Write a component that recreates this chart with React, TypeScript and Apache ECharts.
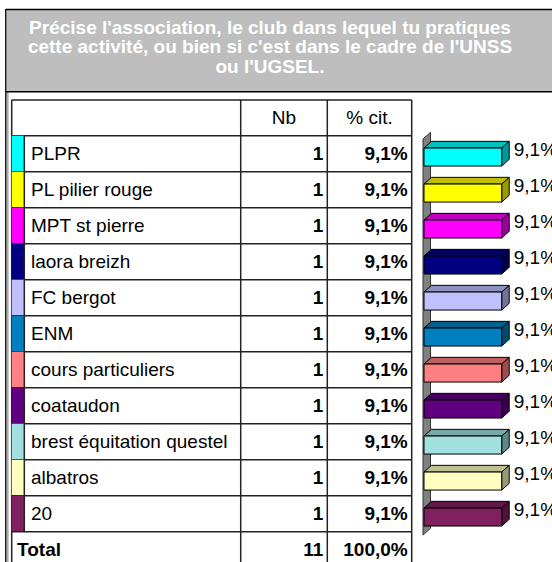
import React, { useEffect, useRef } from "react";
import * as echarts from "echarts";

// ---------- data ----------
const titleLines = [
  "Précise l'association, le club dans lequel tu pratiques",
  "cette activité, ou bien si c'est dans le cadre de l'UNSS",
  "ou l'UGSEL.",
];
const headerLabels = ["Nb", "% cit."];
const categories = [
  "PLPR",
  "PL pilier rouge",
  "MPT st pierre",
  "laora breizh",
  "FC bergot",
  "ENM",
  "cours particuliers",
  "coataudon",
  "brest équitation questel",
  "albatros",
  "20",
];
const counts = [1, 1, 1, 1, 1, 1, 1, 1, 1, 1, 1];
const percents = [9.1, 9.1, 9.1, 9.1, 9.1, 9.1, 9.1, 9.1, 9.1, 9.1, 9.1];
const colors = [
  "#00FFFF",
  "#FFFF00",
  "#FF00FF",
  "#000080",
  "#C0C0FF",
  "#0080C0",
  "#FF8080",
  "#600080",
  "#A0E0E0",
  "#FFFFC0",
  "#802060",
];
const totalLabel = "Total";
const totalCount = 11;
const totalPercent = 100.0;

// ---------- layout ----------
const FONT = "'Liberation Sans', Arial, sans-serif";
const FS = 19;
const LINE = "#222";
const TABLE_L = 11.7;
const COL_SW = 24.3;
const COL_NB = 240.7;
const COL_PCT = 327.3;
const TABLE_R = 411.7;
const HEADER_TOP = 100;
const ROWS_TOP = 135.7;
const ROW_H = 36;
const ROWS_BOTTOM = ROWS_TOP + ROW_H * categories.length;
const BAR_LEFT = 424;
const X_MAX = 10;
const GRID_W = 85.4;
const DX = 7.5;
const DY = 6.7;
const BAR_H = 18;

const fmtPct = (v: number) => v.toFixed(1).replace(".", ",") + "%";

function shade(hex: string, f: number) {
  const n = parseInt(hex.slice(1), 16);
  const r = Math.round(((n >> 16) & 255) * f);
  const g = Math.round(((n >> 8) & 255) * f);
  const b = Math.round((n & 255) * f);
  return `rgb(${r},${g},${b})`;
}

function lineEl(x1: number, y1: number, x2: number, y2: number, color = LINE, w = 1.5) {
  return {
    type: "line",
    shape: { x1, y1, x2, y2 },
    style: { stroke: color, lineWidth: w },
    silent: true,
  };
}

function textEl(x: number, y: number, text: string, align: string, bold = false, color = "#000") {
  return {
    type: "text",
    x,
    y,
    style: {
      text,
      fill: color,
      font: `${bold ? "bold " : ""}${FS}px ${FONT}`,
      align,
      verticalAlign: "middle",
    },
    silent: true,
  };
}

export default function App() {
  const ref = useRef<HTMLDivElement>(null);

  useEffect(() => {
    if (!ref.current) return;
    const chart = echarts.init(ref.current, undefined, { renderer: "svg" });
    const n = categories.length;

    const graphic: any[] = [];
    // outer frame
    graphic.push({
      type: "rect",
      shape: { x: 7, y: 10, width: 600, height: 81.5 },
      style: { fill: "#BEBEBE" },
      silent: true,
    });
    graphic.push(lineEl(5.8, 9.5, 600, 9.5, "#000", 1.5));
    graphic.push(lineEl(5.8, 9, 5.8, 600, "#000", 1.4));
    graphic.push(lineEl(7.9, 92, 7.9, 600, "#777", 1));
    graphic.push(lineEl(5.8, 91.7, 600, 91.7, "#000", 1.5));
    // title
    graphic.push({
      type: "text",
      x: 270,
      y: 46.5,
      style: {
        text: titleLines.join("\n"),
        fill: "#FFFFFF",
        font: `bold ${FS}px ${FONT}`,
        lineHeight: 19.5,
        align: "center",
        verticalAlign: "middle",
      },
      silent: true,
    });
    // table frame
    graphic.push(lineEl(TABLE_L, HEADER_TOP, TABLE_L, 600));
    graphic.push(lineEl(TABLE_R, HEADER_TOP, TABLE_R, 600));
    graphic.push(lineEl(TABLE_L, HEADER_TOP, TABLE_R, HEADER_TOP));
    graphic.push(lineEl(TABLE_L, ROWS_TOP, TABLE_R, ROWS_TOP));
    graphic.push(lineEl(COL_NB, HEADER_TOP, COL_NB, ROWS_TOP));
    graphic.push(lineEl(COL_PCT, HEADER_TOP, COL_PCT, ROWS_TOP));
    const hy = (HEADER_TOP + ROWS_TOP) / 2;
    graphic.push(textEl((COL_NB + COL_PCT) / 2, hy, headerLabels[0], "center"));
    graphic.push(textEl((COL_PCT + TABLE_R) / 2, hy, headerLabels[1], "center"));
    // total row
    graphic.push(lineEl(COL_NB, ROWS_BOTTOM, COL_NB, 600));
    graphic.push(lineEl(COL_PCT, ROWS_BOTTOM, COL_PCT, 600));
    const ty = ROWS_BOTTOM + ROW_H / 2;
    graphic.push(textEl(17, ty, totalLabel, "left", true));
    graphic.push(textEl(COL_PCT - 4, ty, String(totalCount), "right", true));
    graphic.push(textEl(TABLE_R - 4, ty, fmtPct(totalPercent), "right", true));

    const option: any = {
      animation: false,
      backgroundColor: "#FFFFFF",
      grid: { left: BAR_LEFT, top: ROWS_TOP, width: GRID_W, height: ROW_H * n, containLabel: false },
      xAxis: { type: "value", min: 0, max: X_MAX, show: false },
      yAxis: { type: "category", data: categories, inverse: true, show: false },
      graphic,
      series: [
        {
          // 3D side wall
          type: "custom",
          z: 1,
          clip: false,
          data: [[0, 0]],
          renderItem: (params: any, api: any) => {
            const h = api.size([0, 1])[1];
            const p0 = api.coord([0, 0]);
            const pN = api.coord([0, n - 1]);
            const top = p0[1] - h / 2;
            const bot = pN[1] + h / 2;
            const x = p0[0] - 1;
            return {
              type: "polygon",
              shape: {
                points: [
                  [x, top + DY / 2],
                  [x + DX, top - DY / 2],
                  [x + DX, bot - DY / 2],
                  [x, bot + DY / 2],
                ],
              },
              style: { fill: "#808080", stroke: "#333", lineWidth: 1 },
            };
          },
        },
        {
          // 3D bars
          type: "custom",
          z: 2,
          clip: false,
          encode: { x: 0, y: 1 },
          data: percents.map((v, i) => [v, i]),
          renderItem: (params: any, api: any) => {
            const v = api.value(0);
            const i = api.value(1);
            const p0 = api.coord([0, i]);
            const p1 = api.coord([v, i]);
            const c = p0[1];
            const x0 = p0[0];
            const x1 = p1[0];
            const ft = c + DY / 2 - BAR_H / 2;
            const col = colors[params.dataIndex];
            const st = { stroke: "#000", lineWidth: 1 };
            return {
              type: "group",
              children: [
                {
                  type: "polygon",
                  shape: { points: [[x0, ft], [x0 + DX, ft - DY], [x1 + DX, ft - DY], [x1, ft]] },
                  style: { fill: shade(col, 0.75), ...st },
                },
                {
                  type: "polygon",
                  shape: { points: [[x1, ft], [x1 + DX, ft - DY], [x1 + DX, ft - DY + BAR_H], [x1, ft + BAR_H]] },
                  style: { fill: shade(col, 0.6), ...st },
                },
                {
                  type: "rect",
                  shape: { x: x0, y: ft, width: x1 - x0, height: BAR_H },
                  style: { fill: col, ...st },
                },
                {
                  type: "text",
                  x: x1 + DX + 4.5,
                  y: c - 4.5,
                  style: {
                    text: fmtPct(percents[params.dataIndex]),
                    fill: "#000",
                    font: `${FS}px ${FONT}`,
                    align: "left",
                    verticalAlign: "middle",
                  },
                },
              ],
            };
          },
        },
        {
          // table rows
          type: "custom",
          z: 3,
          clip: false,
          encode: { x: 0, y: 1 },
          data: categories.map((_, i) => [0, i]),
          renderItem: (params: any, api: any) => {
            const i = api.value(1);
            const c = api.coord([0, i])[1];
            const h = api.size([0, 1])[1];
            const top = c - h / 2;
            const bot = c + h / 2;
            const k = params.dataIndex;
            return {
              type: "group",
              children: [
                {
                  type: "rect",
                  shape: { x: TABLE_L, y: top, width: COL_SW - TABLE_L, height: h },
                  style: { fill: colors[k] },
                },
                textEl(31, c, categories[k], "left"),
                textEl(COL_PCT - 4, c, String(counts[k]), "right", true),
                textEl(TABLE_R - 4, c, fmtPct(percents[k]), "right", true),
                lineEl(TABLE_L, bot, TABLE_R, bot),
                lineEl(COL_SW, top, COL_SW, bot),
                lineEl(COL_NB, top, COL_NB, bot),
                lineEl(COL_PCT, top, COL_PCT, bot),
              ],
            };
          },
        },
      ],
    };
    chart.setOption(option);
    return () => chart.dispose();
  }, []);

  return (
    <div
      ref={ref}
      style={{ position: "fixed", left: 0, top: 0, width: 552, height: 562, background: "#fff" }}
    />
  );
}
